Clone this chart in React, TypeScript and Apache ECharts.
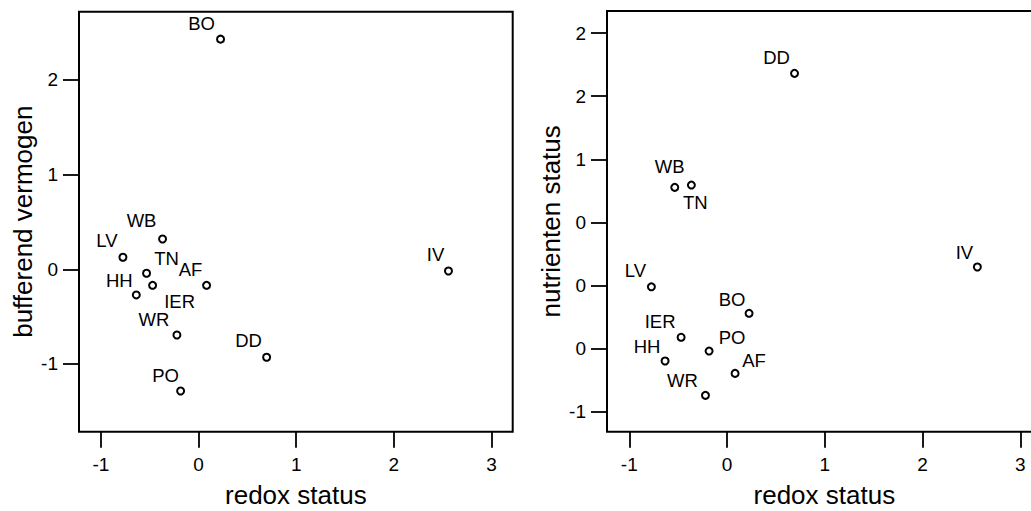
import React, { useEffect, useRef } from "react";
import * as echarts from "echarts";

// Left panel: redox status vs bufferend vermogen (labels as printed)
const leftNames = ["BO", "WB", "LV", "TN", "AF", "HH", "IER", "WR", "DD", "PO", "IV"];
const leftRedox = [0.225, -0.369, -0.775, -0.533, 0.082, -0.638, -0.471, -0.222, 0.697, -0.184, 2.56];
const leftBuffer = [2.43, 0.32, 0.127, -0.042, -0.169, -0.271, -0.169, -0.694, -0.929, -1.285, -0.018];
const leftLabelOffsets = [[-19, -16], [-21, -18], [-16, -17], [20, -15], [-16, -16], [-17, -14], [27, 16], [-23, -16], [-18, -17], [-15, -15], [-13, -16]];

// Right panel: redox status vs nutrienten status
const rightNames = ["DD", "WB", "TN", "IV", "LV", "BO", "IER", "PO", "HH", "AF", "WR"];
const rightRedox = [0.69, -0.535, -0.365, 2.56, -0.774, 0.225, -0.47, -0.184, -0.634, 0.082, -0.221];
const rightNutrient = [1.681, 0.778, 0.796, 0.147, -0.01, -0.22, -0.41, -0.519, -0.598, -0.696, -0.87];
const rightLabelOffsets = [[-18, -16], [-5, -21], [4, 17], [-13, -14], [-16, -16], [-17, -14], [-21, -16], [23, -14], [-18, -15], [19, -13], [-23, -15]];

const xTicks = [-1, 0, 1, 2, 3];
const leftYTicks = [-1, 0, 1, 2];
const rightYTicks = [-1, -0.5, 0, 0.5, 1, 1.5, 2];
const rightYTickLabels = ["-1", "0", "0", "0", "1", "2", "2"];

const FONT = "'Liberation Sans', Arial, sans-serif";

export default function App() {
  const ref = useRef<HTMLDivElement>(null);
  useEffect(() => {
    if (!ref.current) return;
    const chart = echarts.init(ref.current, null, { renderer: "svg" });

    const mkData = (xs: number[], ys: number[], names: string[], offs: number[][]) =>
      xs.map((x, i) => ({
        value: [x, ys[i]],
        name: names[i],
        label: { offset: offs[i] },
      }));

    const xAxisBase = (gridIndex: number) => ({
      type: "value",
      gridIndex,
      position: "bottom",
      min: -1.225,
      max: 3.218,
      name: "redox status",
      nameLocation: "middle",
      nameGap: 53,
      nameTextStyle: { fontSize: 26, lineHeight: 20, color: "#000", fontFamily: FONT },
      splitLine: { show: false },
      axisLine: { show: false, onZero: false },
      axisTick: { show: true, inside: false, length: 16, customValues: xTicks, lineStyle: { color: "#000", width: 1.8 } },
      axisLabel: { customValues: xTicks, margin: 23, fontSize: 19, color: "#000", fontFamily: FONT },
    });

    const labelStyle = {
      show: true,
      position: "inside",
      formatter: "{b}",
      fontSize: 18.5,
      color: "#000",
      fontFamily: FONT,
    };

    const itemStyle = { color: "#fff", borderColor: "#000", borderWidth: 2, opacity: 1 };

    const gridBase = {
      show: true,
      borderColor: "#000",
      borderWidth: 2,
      backgroundColor: "transparent",
      containLabel: false,
      outerBoundsMode: "none",
    };

    const option = {
      animation: false,
      backgroundColor: "#fff",
      grid: [
        { ...gridBase, left: 79, top: 11.7, width: 433.7, height: 420 },
        { ...gridBase, left: 607, top: 11, width: 434.7, height: 420.7 },
      ],
      xAxis: [xAxisBase(0), { ...xAxisBase(1), min: -1.228 }],
      yAxis: [
        {
          type: "value",
          gridIndex: 0,
          position: "left",
          min: -1.715,
          max: 2.72,
          name: "bufferend vermogen",
          nameLocation: "middle",
          nameGap: 43,
          nameTextStyle: { fontSize: 26, color: "#000", fontFamily: FONT },
          splitLine: { show: false },
          axisLine: { show: false, onZero: false },
          axisTick: { show: true, inside: false, length: 16, customValues: leftYTicks, lineStyle: { color: "#000", width: 1.8 } },
          axisLabel: { customValues: leftYTicks, margin: 21, fontSize: 19, color: "#000", fontFamily: FONT },
        },
        {
          type: "value",
          gridIndex: 1,
          position: "left",
          min: -1.158,
          max: 2.175,
          name: "nutrienten status",
          nameLocation: "middle",
          nameGap: 43,
          nameTextStyle: { fontSize: 26, color: "#000", fontFamily: FONT },
          splitLine: { show: false },
          axisLine: { show: false, onZero: false },
          axisTick: { show: true, inside: false, length: 16, customValues: rightYTicks, lineStyle: { color: "#000", width: 1.8 } },
          axisLabel: {
            customValues: rightYTicks,
            margin: 21,
            fontSize: 19,
            color: "#000",
            fontFamily: FONT,
            formatter: (v: number) => {
              const i = rightYTicks.findIndex((t) => Math.abs(t - v) < 1e-9);
              return i >= 0 ? rightYTickLabels[i] : "";
            },
          },
        },
      ],
      series: [
        {
          type: "scatter",
          xAxisIndex: 0,
          yAxisIndex: 0,
          symbol: "circle",
          symbolSize: 7,
          itemStyle,
          label: labelStyle,
          data: mkData(leftRedox, leftBuffer, leftNames, leftLabelOffsets),
        },
        {
          type: "scatter",
          xAxisIndex: 1,
          yAxisIndex: 1,
          symbol: "circle",
          symbolSize: 7,
          itemStyle,
          label: labelStyle,
          data: mkData(rightRedox, rightNutrient, rightNames, rightLabelOffsets),
        },
      ],
    };
    chart.setOption(option as any);
    return () => chart.dispose();
  }, []);
  return (
    <div
      ref={ref}
      style={{ position: "absolute", left: 0, top: 0, width: 1031, height: 511, overflow: "hidden", background: "#fff" }}
    />
  );
}
